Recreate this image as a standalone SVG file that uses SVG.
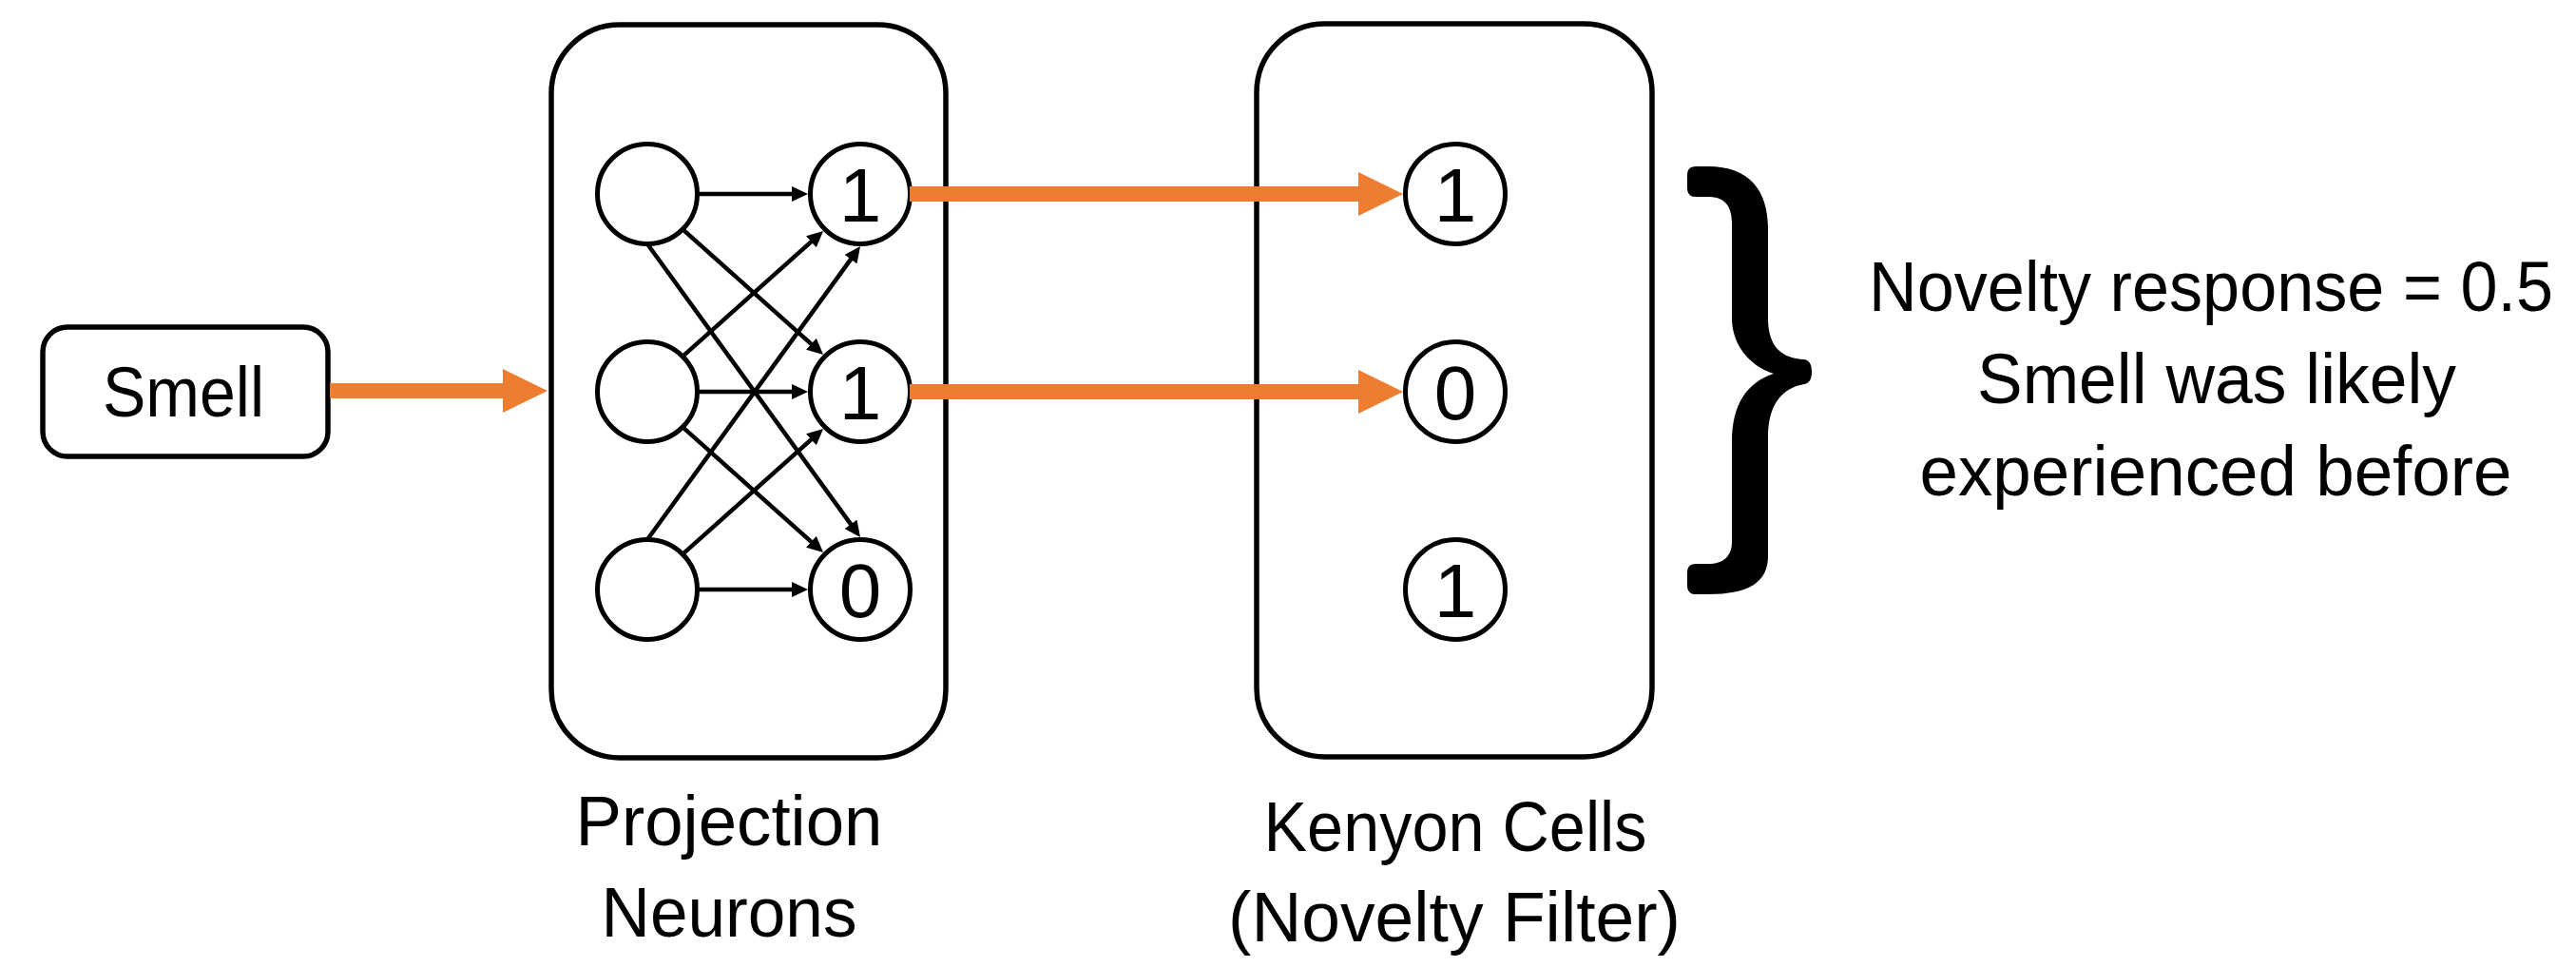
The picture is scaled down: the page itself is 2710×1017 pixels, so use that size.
<svg xmlns="http://www.w3.org/2000/svg" width="2710" height="1017" viewBox="0 0 2710 1017">
  <style>
    .box { fill: #ffffff; stroke: #000000; stroke-width: 5.5; }
    .neuron { fill: #ffffff; stroke: #000000; stroke-width: 5; }
    .num { font-family: "Liberation Sans", Arial, Helvetica, sans-serif; font-size: 80px; fill: #000000; text-anchor: middle; }
    .label { font-family: "Liberation Sans", Arial, sans-serif; font-size: 74px; fill: #000000; text-anchor: middle; }
    .wire { stroke: #000000; stroke-width: 4.5; fill: none; marker-end: url(#tipBlack); }
    .feed { stroke: #ED7D31; stroke-width: 16; fill: none; marker-end: url(#tipOrange); }
  </style>
  <defs>
    <marker id="tipBlack" markerUnits="userSpaceOnUse" markerWidth="17" markerHeight="16" viewBox="0 0 17 16" refX="2" refY="8" orient="auto">
      <path d="M0,0 L17,8 L0,16 Z" fill="#000000"/>
    </marker>
    <marker id="tipOrange" markerUnits="userSpaceOnUse" markerWidth="47" markerHeight="46" viewBox="0 0 47 46" refX="2" refY="23" orient="auto">
      <path d="M0,0 L47,23 L0,46 Z" fill="#ED7D31"/>
    </marker>
  </defs>

  <rect width="2710" height="1017" fill="#ffffff"/>

  <!-- input -->
  <g id="smell">
    <rect class="box" x="45" y="344" width="300" height="136" rx="26" ry="26" stroke-width="5"/>
    <text class="label" x="193" y="438" font-size="73" textLength="170" lengthAdjust="spacingAndGlyphs">Smell</text>
  </g>

  <!-- projection neuron layer -->
  <g id="projection-neurons">
    <rect class="box" x="580" y="26" width="415" height="771" rx="72" ry="72"/>
    <g id="pn-in-1"><circle class="neuron" cx="681" cy="204" r="52.5"/></g>
    <g id="pn-in-2"><circle class="neuron" cx="681" cy="412" r="52.5"/></g>
    <g id="pn-in-3"><circle class="neuron" cx="681" cy="620" r="52.5"/></g>
    <g id="pn-out-1"><circle class="neuron" cx="905" cy="204" r="52.5"/><text class="num" x="905" y="233">1</text></g>
    <g id="pn-out-2"><circle class="neuron" cx="905" cy="412" r="52.5"/><text class="num" x="905" y="441">1</text></g>
    <g id="pn-out-3"><circle class="neuron" cx="905" cy="620" r="52.5"/><text class="num" x="905" y="649">0</text></g>
    <text class="label" x="767" y="889" textLength="323" lengthAdjust="spacingAndGlyphs">Projection</text>
    <text class="label" x="767" y="985" textLength="269" lengthAdjust="spacingAndGlyphs">Neurons</text>
  </g>

  <!-- kenyon cell layer -->
  <g id="kenyon-cells">
    <rect class="box" x="1322" y="25" width="416" height="771" rx="72" ry="72"/>
    <g id="kc-1"><circle class="neuron" cx="1531" cy="204" r="52.5"/><text class="num" x="1531" y="233">1</text></g>
    <g id="kc-2"><circle class="neuron" cx="1531" cy="412" r="52.5"/><text class="num" x="1531" y="441">0</text></g>
    <g id="kc-3"><circle class="neuron" cx="1531" cy="620" r="52.5"/><text class="num" x="1531" y="649">1</text></g>
    <text class="label" x="1531" y="895" textLength="403" lengthAdjust="spacingAndGlyphs">Kenyon Cells</text>
    <text class="label" x="1530" y="990" textLength="476" lengthAdjust="spacingAndGlyphs">(Novelty Filter)</text>
  </g>

  <!-- summary brace and readout -->
  <g id="summary">
    <path fill="#000000" d="M1784 175 L1797 175 C1840 175 1860 200 1860 240 L1860 335 C1860 365 1875 377 1898 378 C1904 379 1906 384 1906 391 C1906 398 1904 403 1898 404 C1875 408 1860 425 1860 460 L1860 585 C1860 612 1840 625 1797 625 L1784 625 Q1775 625 1775 616 L1775 602 Q1775 593 1784 593 L1797 593 C1813 593 1822 585 1822 570 L1822 465 C1822 425 1838 402 1866 393 C1838 384 1822 360 1822 335 L1822 235 C1822 215 1813 207 1797 207 L1784 207 Q1775 207 1775 198 L1775 184 Q1775 175 1784 175 Z"/>
    <text class="label" x="2326" y="327" font-size="71" textLength="720" lengthAdjust="spacingAndGlyphs">Novelty response = 0.5</text>
    <text class="label" x="2332" y="424" textLength="504" lengthAdjust="spacingAndGlyphs">Smell was likely</text>
    <text class="label" x="2331" y="521" textLength="623" lengthAdjust="spacingAndGlyphs">experienced before</text>
  </g>

  <!-- connectors -->
  <g id="connectors">
    <line class="feed" x1="347" y1="411" x2="531" y2="411"/>
    <line class="feed" x1="957" y1="204" x2="1431" y2="204"/>
    <line class="feed" x1="957" y1="412" x2="1431" y2="412"/>

    <line class="wire" x1="733.5" y1="204" x2="835" y2="204"/>
    <line class="wire" x1="718.1" y1="241.1" x2="854.9" y2="363.1"/>
    <line class="wire" x1="681" y1="256.5" x2="896.2" y2="552.9"/>
    <line class="wire" x1="718.1" y1="374.9" x2="854.9" y2="252.9"/>
    <line class="wire" x1="733.5" y1="412" x2="835" y2="412"/>
    <line class="wire" x1="718.1" y1="449.1" x2="854.9" y2="571.1"/>
    <line class="wire" x1="681" y1="567.5" x2="896.2" y2="271.1"/>
    <line class="wire" x1="718.1" y1="582.9" x2="854.9" y2="460.9"/>
    <line class="wire" x1="733.5" y1="620" x2="835" y2="620"/>
  </g>
</svg>
